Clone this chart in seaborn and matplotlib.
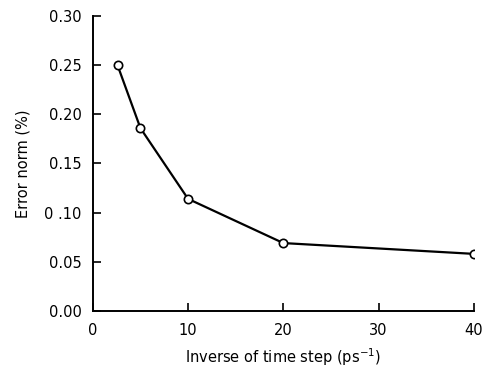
import numpy as np
import pandas as pd
import matplotlib
matplotlib.use("Agg")
import matplotlib.pyplot as plt
import seaborn as sns

# Values
inverse_time_step = [2.6, 5, 10, 20, 40]
error_norm = [0.250, 0.186, 0.114, 0.069, 0.058]

data = pd.DataFrame({"inv_dt": inverse_time_step, "err": error_norm})

sns.set_style("ticks")
plt.rcParams["font.family"] = ["DejaVu Sans"]

fig = plt.figure(figsize=(4.91, 3.67), dpi=100)
ax = fig.add_axes([0.189, 0.153, 0.776, 0.803])

sns.lineplot(data=data, x="inv_dt", y="err", ax=ax, color="black", linewidth=1.6,
             marker="o", markersize=6, markerfacecolor="white",
             markeredgecolor="black", markeredgewidth=1.2)

ax.set_xlim(0, 40)
ax.set_ylim(0, 0.30)
ax.set_xticks([0, 10, 20, 30, 40])
ax.set_yticks(np.arange(0, 0.31, 0.05))
ax.set_yticklabels(["0.00", "0.05", "0 .10", "0.15", "0.20", "0.25", "0.30"])
ax.tick_params(direction="in", length=6, width=1.2, labelsize=10.5, colors="black")
ax.tick_params(axis="y", pad=8)
ax.tick_params(axis="x", pad=9)
for side in ["left", "bottom"]:
    ax.spines[side].set_linewidth(1.4)
    ax.spines[side].set_color("black")
sns.despine(ax=ax)

ax.set_xlabel("Inverse of time step (ps$^{-1}$)", fontsize=10.5, labelpad=6, color="black")
ax.set_ylabel("Error norm (%)", fontsize=10.5, labelpad=10, color="black")

fig.savefig("out.png", dpi=100)
